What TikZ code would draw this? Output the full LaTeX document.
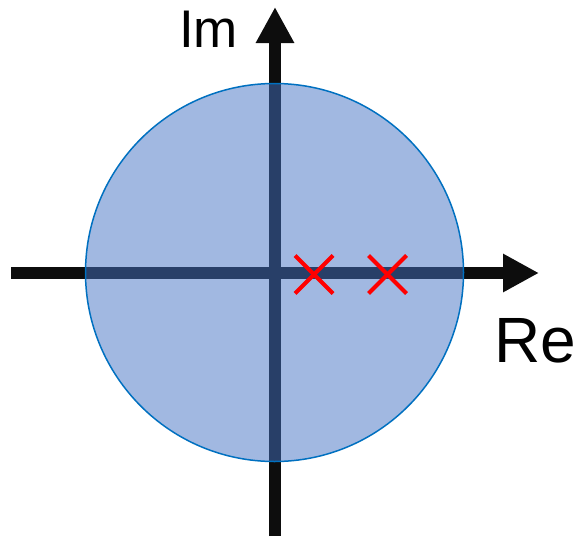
\documentclass[tikz,border=0pt]{standalone}
\usepackage{fontspec}
\setmainfont{Liberation Sans}
\usetikzlibrary{arrows.meta,positioning}
\definecolor{diskfill}{HTML}{4472C4}
\definecolor{diskedge}{HTML}{0070C0}
\definecolor{axisblack}{HTML}{0D0D0D}
\definecolor{polered}{HTML}{FF0000}

\tikzset{
  axisline/.style={axisblack,line width=11.5pt,-{Triangle[length=36pt,width=36pt]}},
  polemark/.style={polered,line width=4pt},
  axislabel/.style={inner sep=0pt,anchor=base,text=black}
}

\begin{document}
\begin{tikzpicture}[x=1pt,y=-1pt]

  % ---- Frame ---------------------------------------------------
  \useasboundingbox (0,0) rectangle (578,538);

  % ---- Axes ----------------------------------------------------
  \coordinate (reStart) at (11,273);
  \coordinate (reEnd)   at (539,273);
  \coordinate (imStart) at (275,536);
  \coordinate (imEnd)   at (275,7);
  \draw[axisline] (reStart) -- (reEnd);
  \draw[axisline] (imStart) -- (imEnd);

  % ---- Unit disk -----------------------------------------------
  \coordinate (origin) at (274.5,272.5);
  \fill[diskfill,fill opacity=0.5] (origin) circle (189);
  \draw[diskedge,line width=1.5pt] (origin) circle (189);

  % ---- Poles ---------------------------------------------------
  \foreach \px/\name in {314/poleA,387.5/poleB}{
    \coordinate (\name) at (\px,274.5);
    \draw[polemark] ([shift={(-19,-19)}]\name) -- ([shift={(19,19)}]\name);
    \draw[polemark] ([shift={(-19,19)}]\name) -- ([shift={(19,-19)}]\name);
  }

  % ---- Labels --------------------------------------------------
  \node[axislabel,font=\fontsize{53}{53}\selectfont] (imLabel) at (208.5,47) {Im};
  \node[axislabel,font=\fontsize{64}{64}\selectfont] (reLabel) at (535,362) {Re};

\end{tikzpicture}
\end{document}
